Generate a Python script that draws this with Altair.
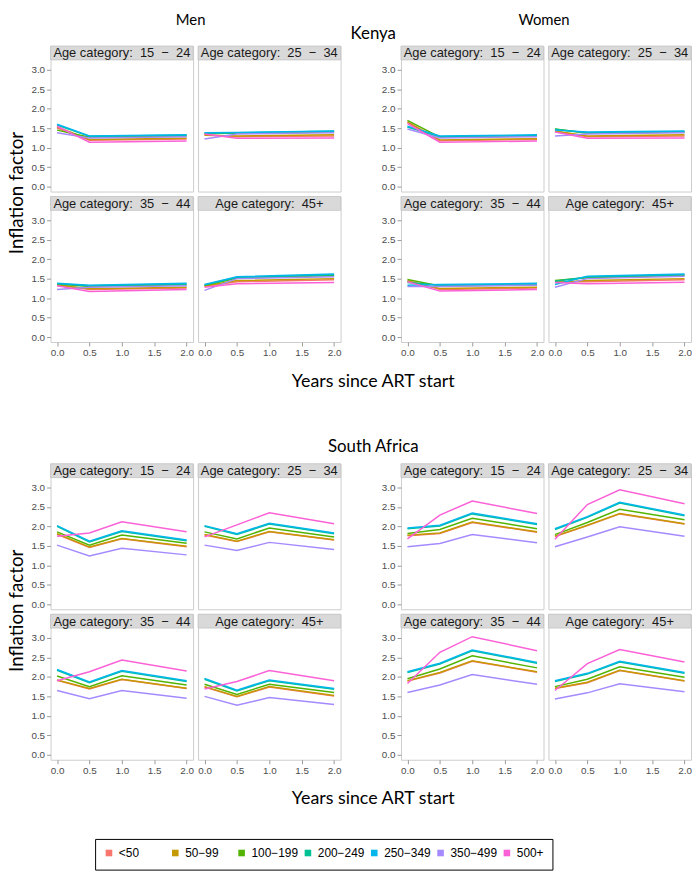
import altair as alt
import pandas as pd

# ---------------- data ----------------
CD4 = ["<50", "50\u221299", "100\u2212199", "200\u2212249", "250\u2212349", "350\u2212499", "500+"]
COLORS = ["#F8766D", "#C49A00", "#53B400", "#00C094", "#00B6EB", "#A58AFF", "#FB61D7"]
NB = "\u00a0"
AGE_LABELS = [
    f"Age category:{NB} 15 {NB}\u2212{NB} 24",
    f"Age category:{NB} 25 {NB}\u2212{NB} 34",
    f"Age category:{NB} 35 {NB}\u2212{NB} 44",
    f"Age category:{NB} 45+",
]
SEXES = ["Men", "Women"]
COUNTRIES = ["Kenya", "South Africa"]
Y_TITLE = "Inflation factor"
X_TITLE = "Years since ART start"
KE_YEARS = [0.0, 0.5, 2.0]
SA_YEARS = [0.0, 0.5, 1.0, 2.0]

# rows follow CD4 order; columns follow the years list
KE_M_15_24 = [[1.50, 1.19, 1.22], [1.53, 1.21, 1.24], [1.45, 1.27, 1.30], [1.58, 1.29, 1.32],
              [1.60, 1.30, 1.33], [1.38, 1.25, 1.28], [1.55, 1.14, 1.17]]
KE_M_25_34 = [[1.33, 1.28, 1.30], [1.32, 1.30, 1.33], [1.36, 1.37, 1.40], [1.37, 1.38, 1.42],
              [1.38, 1.39, 1.43], [1.22, 1.35, 1.38], [1.35, 1.24, 1.25]]
KE_M_35_44 = [[1.35, 1.22, 1.26], [1.33, 1.24, 1.28], [1.36, 1.30, 1.34], [1.37, 1.32, 1.36],
              [1.38, 1.33, 1.38], [1.22, 1.28, 1.32], [1.32, 1.17, 1.22]]
KE_M_45P = [[1.30, 1.42, 1.47], [1.31, 1.45, 1.50], [1.33, 1.51, 1.58], [1.34, 1.53, 1.60],
            [1.35, 1.55, 1.62], [1.20, 1.50, 1.55], [1.28, 1.37, 1.40]]
KE_W_15_24 = [[1.67, 1.18, 1.21], [1.65, 1.20, 1.23], [1.70, 1.27, 1.30], [1.53, 1.28, 1.31],
              [1.55, 1.30, 1.33], [1.48, 1.25, 1.28], [1.62, 1.14, 1.17]]
KE_W_25_34 = [[1.42, 1.28, 1.30], [1.43, 1.30, 1.33], [1.48, 1.37, 1.40], [1.47, 1.38, 1.41],
              [1.45, 1.40, 1.43], [1.30, 1.35, 1.38], [1.40, 1.24, 1.25]]
KE_W_35_44 = [[1.45, 1.22, 1.26], [1.43, 1.25, 1.28], [1.48, 1.31, 1.34], [1.40, 1.33, 1.36],
              [1.33, 1.35, 1.38], [1.30, 1.30, 1.33], [1.42, 1.18, 1.22]]
KE_W_45P = [[1.42, 1.42, 1.47], [1.40, 1.45, 1.50], [1.45, 1.52, 1.58], [1.43, 1.54, 1.60],
            [1.35, 1.56, 1.62], [1.28, 1.50, 1.56], [1.40, 1.37, 1.41]]

SA_M_15_24 = [[1.80, 1.46, 1.68, 1.48], [1.81, 1.47, 1.69, 1.49], [1.86, 1.52, 1.78, 1.57],
              [2.00, 1.60, 1.87, 1.63], [2.02, 1.62, 1.89, 1.65], [1.52, 1.24, 1.44, 1.27],
              [1.75, 1.83, 2.12, 1.86]]
SA_M_25_34 = [[1.78, 1.61, 1.86, 1.65], [1.79, 1.62, 1.87, 1.66], [1.86, 1.68, 1.96, 1.73],
              [2.00, 1.79, 2.06, 1.81], [2.02, 1.81, 2.08, 1.83], [1.52, 1.38, 1.59, 1.41],
              [1.73, 2.04, 2.35, 2.07]]
SA_M_35_44 = [[1.91, 1.69, 1.93, 1.70], [1.92, 1.70, 1.94, 1.71], [2.02, 1.75, 2.03, 1.79],
              [2.17, 1.85, 2.14, 1.88], [2.19, 1.87, 2.16, 1.90], [1.65, 1.44, 1.65, 1.45],
              [1.90, 2.13, 2.43, 2.15]]
SA_M_45P = [[1.74, 1.49, 1.74, 1.51], [1.75, 1.50, 1.75, 1.52], [1.81, 1.55, 1.81, 1.60],
            [1.94, 1.64, 1.90, 1.68], [1.96, 1.66, 1.92, 1.70], [1.50, 1.27, 1.47, 1.29],
            [1.69, 1.88, 2.16, 1.90]]
SA_W_15_24 = [[1.76, 1.82, 2.10, 1.85], [1.77, 1.83, 2.11, 1.86], [1.82, 1.92, 2.21, 1.94],
              [1.94, 2.01, 2.32, 2.05], [1.96, 2.03, 2.34, 2.07], [1.48, 1.56, 1.79, 1.58],
              [1.68, 2.29, 2.65, 2.33]]
SA_W_25_34 = [[1.74, 2.02, 2.32, 2.06], [1.75, 2.03, 2.33, 2.07], [1.79, 2.10, 2.44, 2.17],
              [1.92, 2.23, 2.60, 2.27], [1.94, 2.25, 2.62, 2.29], [1.48, 1.73, 1.99, 1.75],
              [1.67, 2.56, 2.94, 2.58]]
SA_W_35_44 = [[1.89, 2.10, 2.40, 2.12], [1.90, 2.11, 2.41, 2.13], [1.95, 2.20, 2.54, 2.23],
              [2.11, 2.33, 2.67, 2.35], [2.13, 2.35, 2.69, 2.37], [1.60, 1.79, 2.06, 1.81],
              [1.83, 2.63, 3.03, 2.67]]
SA_W_45P = [[1.70, 1.85, 2.16, 1.89], [1.71, 1.86, 2.17, 1.90], [1.75, 1.94, 2.26, 1.99],
            [1.88, 2.07, 2.38, 2.09], [1.90, 2.09, 2.40, 2.11], [1.43, 1.59, 1.82, 1.62],
            [1.65, 2.34, 2.70, 2.38]]

X_TICKS = [0.0, 0.5, 1.0, 1.5, 2.0]
Y_TICKS = [0.0, 0.5, 1.0, 1.5, 2.0, 2.5, 3.0]

# ---------------- layout constants ----------------
W = 144          # panel width
S = 14           # strip height
HP = 133         # plotting region height
H = S + HP
BLOCK_H = 2 * H + 3
YMIN, YMAXD = -0.125, 3.25
YTOP = YMAXD + S * (YMAXD - YMIN) / HP
GAP = 39
YLAB_W = 17
AXW = 23         # width of a y axis (labels + ticks)
LEFT = YLAB_W + 2 + AXW
BLOCK_W = 2 * W + 3
TOTAL_W = LEFT + BLOCK_W + GAP + AXW + BLOCK_W
TITLE_FONT = "Lato"
TICK_FONT = "Liberation Sans"
TRANSPARENT = alt.ViewBackground(stroke="transparent")

ONE = pd.DataFrame({"a": [0]})

LEGEND = alt.Legend(
    title=None, orient="none", legendX=87, legendY=834, direction="horizontal",
    columns=7, gridAlign="all", symbolType="square", symbolSize=10, symbolStrokeWidth=3.5,
    labelFont=TICK_FONT, labelFontSize=12, labelColor="black", labelOffset=4,
    padding=8, columnPadding=0, strokeColor="black", fillColor="white",
)


def axis(vals, show):
    if not show:
        return None
    return alt.Axis(values=vals, format=".1f", domain=False, grid=False, tickSize=4,
                    tickColor="#9a9a9a", labelColor="#4d4d4d", labelFont=TICK_FONT,
                    labelFontSize=10, labelPadding=2, labelFlush=False,
                    labelOverlap=False, minExtent=0, title=None)


def panel(values, years, label, show_x, show_y):
    rows = []
    for i, cat in enumerate(CD4):
        for j, t in enumerate(years):
            rows.append({"t": t, "v": values[i][j], "cd4": cat})
    df = pd.DataFrame(rows)
    lines = alt.Chart(df).mark_line(strokeWidth=1.5).encode(
        x=alt.X("t:Q", scale=alt.Scale(domain=[-0.1, 2.1], nice=False, zero=False),
                axis=axis(X_TICKS, show_x)),
        y=alt.Y("v:Q", scale=alt.Scale(domain=[YMIN, YTOP], nice=False, zero=False),
                axis=axis(Y_TICKS, show_y)),
        color=alt.Color("cd4:N", scale=alt.Scale(domain=CD4, range=COLORS), legend=LEGEND),
    )
    strip = alt.Chart(ONE).mark_rect(color="#d9d9d9", stroke="#c4c4c4", strokeWidth=0.8).encode(
        x=alt.value(0), x2=alt.value(W), y=alt.value(0), y2=alt.value(S))
    text = alt.Chart(ONE).mark_text(font=TICK_FONT, fontSize=13, color="#1a1a1a",
                                    baseline="middle").encode(
        x=alt.value(W / 2), y=alt.value(S / 2 + 0.5), text=alt.value(label))
    return alt.layer(strip, text, lines).properties(width=W, height=H)


def block(panels, years):
    charts = []
    for k, vals in enumerate(panels):
        charts.append(panel(vals, years, AGE_LABELS[k], show_x=k >= 2, show_y=k % 2 == 0))
    return alt.ConcatChart(concat=charts, columns=2, spacing=3, align="each")


def text_item(txt, x, y, size, angle=0):
    return alt.Chart(ONE).mark_text(font=TITLE_FONT, fontSize=size, color="black", angle=angle,
                                    baseline="middle", align="center").encode(
        x=alt.value(x), y=alt.value(y), text=alt.value(txt))


MEN_CX = LEFT + BLOCK_W / 2 - 4
WOMEN_CX = LEFT + BLOCK_W + GAP + AXW + BLOCK_W / 2
CENTER_X = (LEFT + TOTAL_W) / 2 + 4


def country_section(men, women, years):
    ylab = text_item(Y_TITLE, YLAB_W / 2, BLOCK_H / 2, 19, angle=270).properties(
        width=YLAB_W, height=BLOCK_H, view=TRANSPARENT)
    row = alt.hconcat(ylab, block(men, years), spacing=2)
    row = alt.hconcat(row, block(women, years), spacing=GAP)
    xlab = text_item(X_TITLE, CENTER_X, 11, 18).properties(
        width=TOTAL_W, height=22, view=TRANSPARENT)
    return row, xlab


header = alt.layer(
    text_item(SEXES[0], MEN_CX, 7, 15),
    text_item(SEXES[1], WOMEN_CX, 7, 15),
    text_item(COUNTRIES[0], CENTER_X, 21, 17),
).properties(width=TOTAL_W, height=27, view=TRANSPARENT)

sa_header = text_item(COUNTRIES[1], CENTER_X, 10, 17).properties(
    width=TOTAL_W, height=22, view=TRANSPARENT)

ke_row, ke_xlab = country_section([KE_M_15_24, KE_M_25_34, KE_M_35_44, KE_M_45P],
                                  [KE_W_15_24, KE_W_25_34, KE_W_35_44, KE_W_45P], KE_YEARS)
sa_row, sa_xlab = country_section([SA_M_15_24, SA_M_25_34, SA_M_35_44, SA_M_45P],
                                  [SA_W_15_24, SA_W_25_34, SA_W_35_44, SA_W_45P], SA_YEARS)

upper = alt.vconcat(alt.vconcat(header, ke_row, spacing=2), ke_xlab, spacing=11)
lower = alt.vconcat(alt.vconcat(sa_header, sa_row, spacing=3), sa_xlab, spacing=11)
chart = alt.vconcat(upper, lower, spacing=43).properties(padding=0).configure_view(
    stroke="#cccccc", strokeWidth=1
)

chart.save("out.html", embed_options={"renderer": "svg", "actions": False})
